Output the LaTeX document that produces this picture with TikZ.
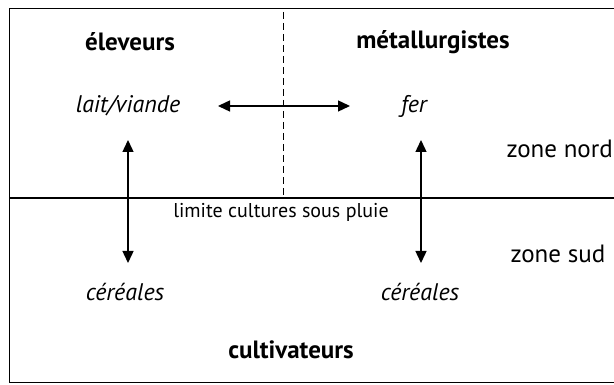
\documentclass[tikz,border=0pt]{standalone}
\usepackage{fontspec}
\setmainfont{PT Sans}
\usetikzlibrary{arrows.meta}
\begin{document}
\begin{tikzpicture}[x=1pt,y=-1pt,
  title/.style={font=\bfseries\fontsize{25}{28}\selectfont},
  prod/.style={font=\itshape\fontsize{24}{28}\selectfont},
  zone/.style={font=\fontsize{25}{28}\selectfont},
  small/.style={font=\fontsize{20}{23}\selectfont},
  arr/.style={line width=1.4pt,{Triangle[length=12pt,width=11pt]}-{Triangle[length=12pt,width=11pt]}}]
\useasboundingbox (0,0) rectangle (614,385);
\begin{scope}
\clip (0,0) rectangle (614,385);
\draw[line width=1pt] (9,9) rectangle (630,382);
\draw[line width=1.2pt] (9,198) -- (630,198);
\draw[line width=1pt,dash pattern=on 7pt off 4pt] (283,12) -- (283,196);
\node[zone,anchor=west] (nord) at (503,149) {zone nord};
\node[zone,anchor=west] (sud) at (507,254) {zone sud};
\end{scope}
\node[title] (elev) at (130,42) {éleveurs};
\node[title] (metal) at (433,42) {métallurgistes};
\node[prod] (lait) at (128,106) {lait/viande};
\node[prod] (fer) at (414,106) {fer};
\node[small] (lim) at (281,212) {limite cultures sous pluie};
\node[prod] (cer1) at (125,292) {céréales};
\node[prod] (cer2) at (420,292) {céréales};
\node[title] (cult) at (291,350) {cultivateurs};
\coordinate (h1) at (218,106);
\coordinate (h2) at (350,106);
\coordinate (a1t) at (128,140);
\coordinate (a1b) at (128,263);
\coordinate (a2t) at (421,140);
\coordinate (a2b) at (421,263);
\draw[arr] (h1) -- (h2);
\draw[arr] (a1t) -- (a1b);
\draw[arr] (a2t) -- (a2b);
\end{tikzpicture}
\end{document}
